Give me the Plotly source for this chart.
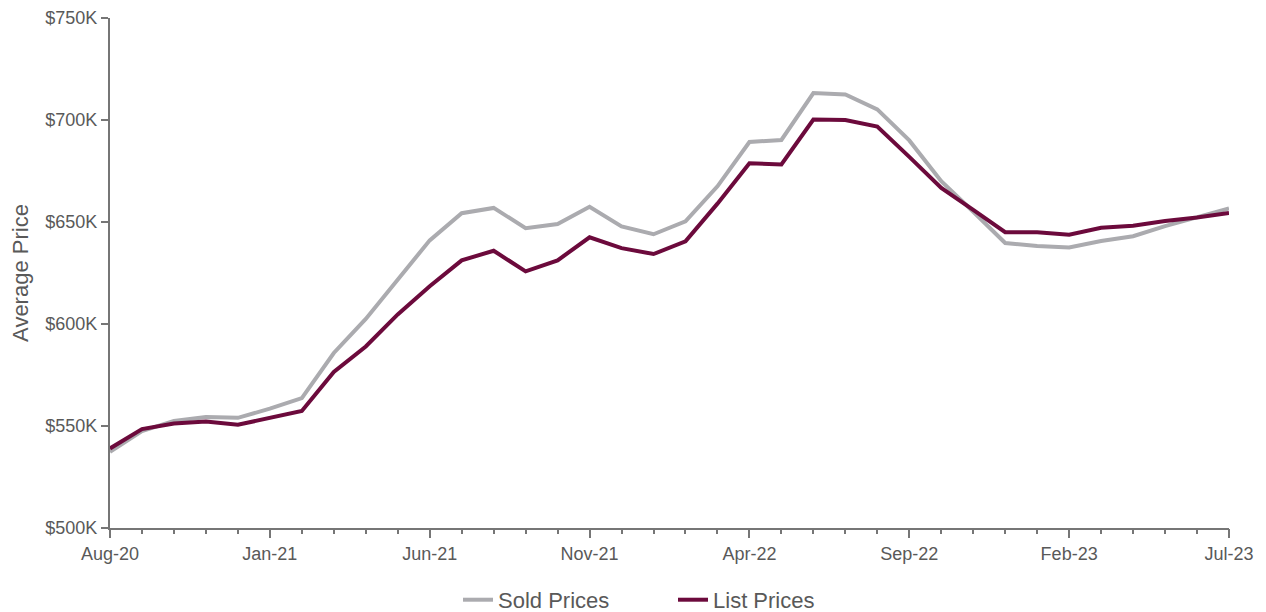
import plotly.graph_objects as go

months = ["Aug-20","Sep-20","Oct-20","Nov-20","Dec-20","Jan-21","Feb-21","Mar-21","Apr-21","May-21",
          "Jun-21","Jul-21","Aug-21","Sep-21","Oct-21","Nov-21","Dec-21","Jan-22","Feb-22","Mar-22",
          "Apr-22","May-22","Jun-22","Jul-22","Aug-22","Sep-22","Oct-22","Nov-22","Dec-22","Jan-23",
          "Feb-23","Mar-23","Apr-23","May-23","Jun-23","Jul-23"]

sold_prices = [537.3, 547.5, 552.5, 554.4, 554.0, 558.5, 563.7, 585.8, 602.5, 621.5,
               641.0, 654.3, 656.9, 647.0, 649.0, 657.5, 647.8, 644.0, 650.3, 667.5,
               689.2, 690.2, 713.2, 712.5, 705.2, 690.0, 670.0, 655.0, 639.7, 638.2,
               637.5, 640.7, 643.0, 648.0, 652.5, 656.6]

list_prices = [539.0, 548.5, 551.2, 552.2, 550.6, 554.0, 557.4, 576.5, 589.0, 604.7,
               618.5, 631.2, 635.9, 625.8, 631.2, 642.5, 637.2, 634.3, 640.5, 659.0,
               678.8, 678.2, 700.2, 700.0, 696.8, 681.9, 666.7, 655.9, 645.0, 645.0,
               643.8, 647.2, 648.2, 650.5, 652.2, 654.4]

y_ticks = [500, 550, 600, 650, 700, 750]
y_tick_labels = ["$500K", "$550K", "$600K", "$650K", "$700K", "$750K"]

major_months = [m for i, m in enumerate(months) if i % 5 == 0]

fig = go.Figure()
fig.add_trace(go.Scatter(x=months, y=sold_prices, mode="lines", name="Sold Prices",
                         line=dict(color="#ABABAF", width=4)))
fig.add_trace(go.Scatter(x=months, y=list_prices, mode="lines", name="List Prices",
                         line=dict(color="#6C0A3C", width=4)))

axis_color = "#767676"
text_color = "#595959"
font_family = "Liberation Sans, Arial, sans-serif"

fig.update_layout(
    width=1258, height=604,
    margin=dict(l=102, r=37, t=10, b=84, autoexpand=False),
    paper_bgcolor="white", plot_bgcolor="white",
    font=dict(family=font_family, color=text_color, size=18),
    showlegend=True,
    legend=dict(orientation="h", x=0.311, xanchor="left", y=-0.141, yanchor="middle",
                font=dict(size=22, color=text_color), entrywidth=170, entrywidthmode="pixels",
                traceorder="normal", bgcolor="rgba(0,0,0,0)"),
    xaxis=dict(type="category", range=[0, 35], tickmode="array", tickvals=major_months,
               ticktext=major_months, ticks="outside", ticklen=8, tickwidth=2,
               tickcolor=axis_color, showline=True, linecolor=axis_color, linewidth=2,
               showgrid=False, zeroline=False, tickfont=dict(size=18, color=text_color),
               automargin=False),
    xaxis2=dict(type="category", range=[0, 35], matches="x", overlaying="x", side="bottom",
                tickmode="array", tickvals=months, showticklabels=False, ticks="outside",
                ticklen=5, tickwidth=2, tickcolor=axis_color, showline=False,
                showgrid=False, zeroline=False, automargin=False),
    yaxis=dict(range=[500, 750], tickmode="array", tickvals=y_ticks, ticktext=y_tick_labels,
               ticks="outside", ticklen=7, tickwidth=2, tickcolor=axis_color,
               showline=True, linecolor=axis_color, linewidth=2, showgrid=False,
               zeroline=False, tickfont=dict(size=18, color=text_color), automargin=False,
               title=dict(text="Average Price", font=dict(size=22, color=text_color), standoff=13)),
)

# invisible helper trace so the month ticks axis is drawn
fig.add_trace(go.Scatter(x=months, y=list_prices, xaxis="x2", mode="lines",
                         line=dict(width=0), hoverinfo="skip", showlegend=False, opacity=0))

fig.write_html("out.html")
